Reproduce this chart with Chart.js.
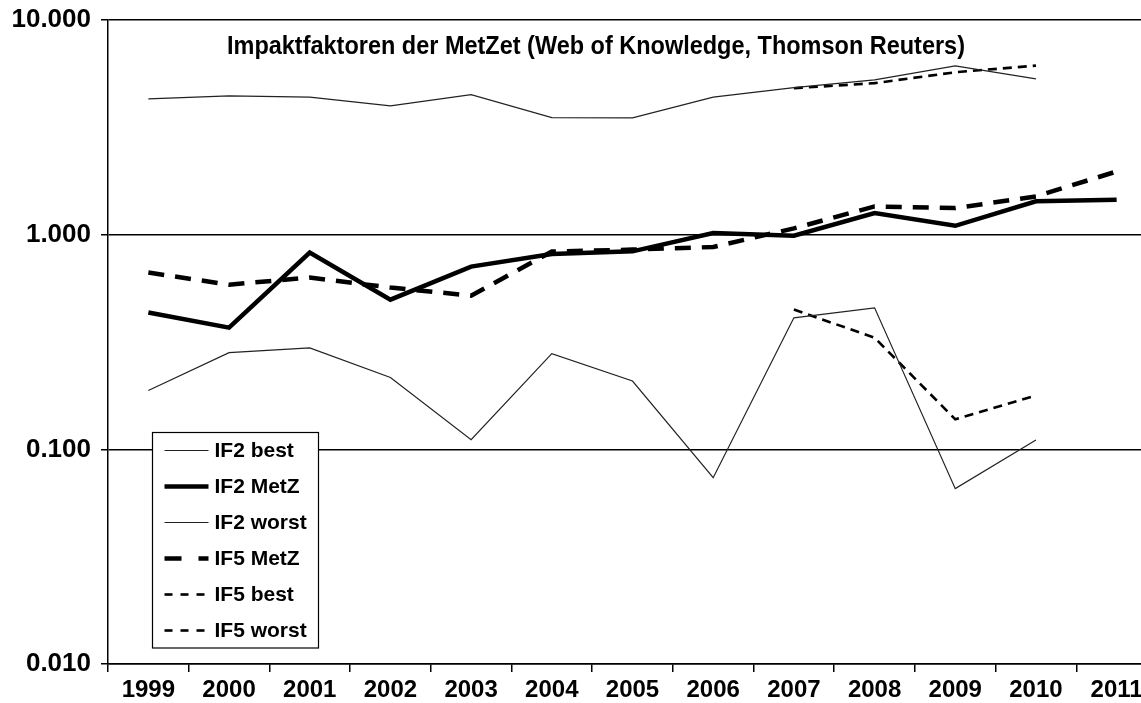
<!DOCTYPE html>
<html><head><meta charset="utf-8">
<script src="https://cdn.jsdelivr.net/npm/chart.js@4.4.0/dist/chart.umd.min.js"></script>
<style>
html,body{margin:0;padding:0;overflow:hidden;background:#fff;width:1141px;height:703px}
#wrap{position:absolute;left:0;top:0;width:1157px;height:703px}
</style>
</head><body><div id="wrap"><canvas id="c" width="1157" height="703"></canvas></div>
<script>
const years = ['1999','2000','2001','2002','2003','2004','2005','2006','2007','2008','2009','2010','2011'];
const if2Best  = [4.29, 4.43, 4.37, 3.98, 4.49, 3.51, 3.50, 4.37, 4.84, 5.26, 6.11, 5.32, null];
const if2MetZ  = [0.434, 0.369, 0.825, 0.498, 0.710, 0.812, 0.836, 1.018, 0.989, 1.26, 1.10, 1.43, 1.455];
const if2Worst = [0.188, 0.282, 0.297, 0.216, 0.111, 0.279, 0.208, 0.0738, 0.41, 0.456, 0.0656, 0.1105, null];
const if5MetZ  = [0.666, 0.585, 0.631, 0.567, 0.520, 0.834, 0.852, 0.876, 1.07, 1.354, 1.33, 1.507, 1.97];
const if5Best  = [null, null, null, null, null, null, null, null, 4.81, 5.08, 5.71, 6.13, null];
const if5Worst = [null, null, null, null, null, null, null, null, 0.448, 0.331, 0.138, 0.178, null];
const yTicks = [0.01, 0.1, 1, 10];
const chartTitle = 'Impaktfaktoren der MetZet (Web of Knowledge, Thomson Reuters)';

const FONT = '"Liberation Sans", Arial, Helvetica, sans-serif';

const overlay = {
  id: 'overlay',
  afterDraw(chart) {
    const ctx = chart.ctx;
    const ca = chart.chartArea;
    // title
    ctx.save();
    ctx.fillStyle = '#000';
    ctx.font = 'bold 25px ' + FONT;
    ctx.textBaseline = 'alphabetic';
    const w = ctx.measureText(chartTitle).width;
    ctx.translate(ca.left + 119, ca.top + 33.5);
    ctx.scale(738 / w, 1);
    ctx.fillText(chartTitle, 0, 0);
    ctx.restore();
    // legend
    ctx.save();
    const bx = ca.left + 44.5, by = 432.5, bw = 166, bh = 215.5;
    ctx.fillStyle = '#fff';
    ctx.fillRect(bx, by, bw, bh);
    ctx.strokeStyle = '#000';
    ctx.lineWidth = 1.2;
    ctx.strokeRect(bx, by, bw, bh);
    ctx.font = 'bold 21px ' + FONT;
    ctx.textBaseline = 'middle';
    chart.data.datasets.forEach((ds, i) => {
      const y = 450.5 + i * 36;
      ctx.save();
      ctx.strokeStyle = ds.borderColor;
      ctx.lineWidth = ds.borderWidth;
      ctx.setLineDash(ds.legendDash || ds.borderDash || []);
      ctx.beginPath();
      ctx.moveTo(bx + 12, y);
      ctx.lineTo(bx + 56, y);
      ctx.stroke();
      ctx.restore();
      ctx.fillStyle = '#000';
      ctx.fillText(ds.label, bx + 62, y + 1);
    });
    ctx.restore();
  }
};

new Chart(document.getElementById('c').getContext('2d'), {
  type: 'line',
  data: {
    labels: years,
    datasets: [
      {label: 'IF2 best', data: if2Best, borderColor: '#222', borderWidth: 1.2, borderDash: []},
      {label: 'IF2 MetZ', data: if2MetZ, borderColor: '#000', borderWidth: 4.5, borderDash: []},
      {label: 'IF2 worst', data: if2Worst, borderColor: '#222', borderWidth: 1.2, borderDash: []},
      {label: 'IF5 MetZ', data: if5MetZ, borderColor: '#000', borderWidth: 4.5, borderDash: [16, 11], legendDash: [17, 17]},
      {label: 'IF5 best', data: if5Best, borderColor: '#000', borderWidth: 2.6, borderDash: [9, 6], legendDash: [8, 8]},
      {label: 'IF5 worst', data: if5Worst, borderColor: '#000', borderWidth: 2.6, borderDash: [9, 6], legendDash: [8, 8]}
    ]
  },
  options: {
    responsive: false,
    animation: false,
    layout: {padding: {top: 20, right: 0, left: 0, bottom: 0}},
    plugins: {legend: {display: false}, tooltip: {enabled: false}, title: {display: false}},
    elements: {point: {radius: 0}, line: {tension: 0, borderCapStyle: 'butt', borderJoinStyle: 'miter'}},
    scales: {
      x: {
        type: 'category',
        offset: true,
        grid: {offset: true, drawOnChartArea: false, drawTicks: true, tickLength: 8, color: '#000', lineWidth: 1.5},
        border: {display: true, color: '#000', width: 1.5},
        ticks: {color: '#000', font: {family: FONT, size: 24, weight: 'bold'}, padding: 4, maxRotation: 0, autoSkip: false},
        afterFit(s) { s.height = 39; s.paddingLeft = 0; s.paddingRight = 0; }
      },
      y: {
        type: 'logarithmic',
        min: 0.01,
        max: 10,
        afterBuildTicks(s) { s.ticks = yTicks.map(v => ({value: v})); },
        grid: {color: '#000', lineWidth: 1.5, tickLength: 7},
        border: {display: true, color: '#000', width: 1.5},
        ticks: {color: '#000', font: {family: FONT, size: 26, weight: 'bold'}, padding: 10,
                callback: v => Number(v).toFixed(3)},
        afterFit(s) { s.width = 108; s.paddingTop = 0; s.paddingBottom = 0; }
      }
    }
  },
  plugins: [overlay]
});
</script>
</body></html>
